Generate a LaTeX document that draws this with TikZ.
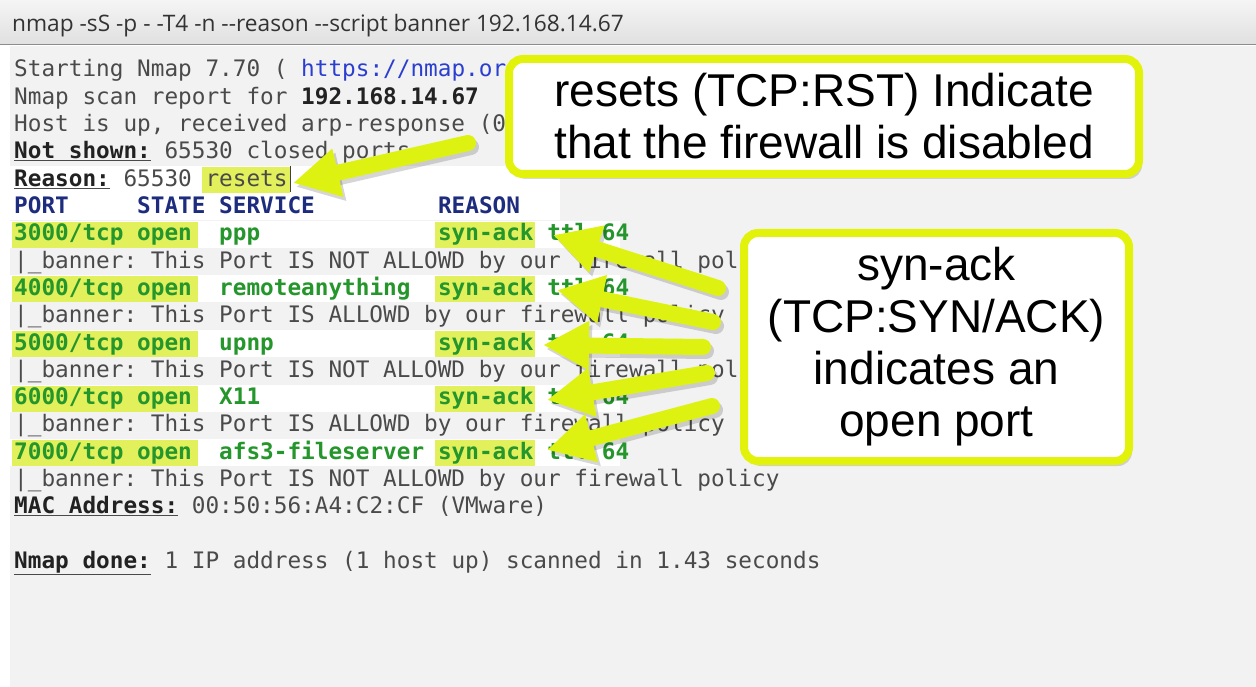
\documentclass[tikz,border=0pt]{standalone}
\usepackage{fontspec}
\setmonofont{DejaVu Sans Mono}
\newfontfamily\callfont{Liberation Sans}
\newfontfamily\titlefont{Open Sans}
\usetikzlibrary{arrows.meta,shadows}
\definecolor{termbg}{HTML}{F2F2F2}
\definecolor{hlcolor}{HTML}{E2F05C}
\definecolor{calloutc}{HTML}{E2F20A}
\definecolor{arrowc}{HTML}{DDF210}
\definecolor{portgreen}{HTML}{25962B}
\definecolor{navy}{HTML}{1E2C7E}
\definecolor{linkblue}{HTML}{2A3FD0}
\definecolor{txtgray}{HTML}{4A4A4A}
\definecolor{darktext}{HTML}{222222}
\definecolor{titlegray}{HTML}{333333}
\newcommand\dd{-\kern0pt-}
\newcommand\lbl[1]{\textbf{\underline{\textcolor{darktext}{#1}}}}
\begin{document}
\begin{tikzpicture}[x=1pt,y=-1pt,
  term/.style={anchor=base west, inner sep=0pt, text=txtgray,
    font=\ttfamily\frenchspacing\fontsize{22.7}{27}\selectfont},
  portrow/.style={term, text=portgreen,
    font=\ttfamily\bfseries\frenchspacing\fontsize{22.7}{27}\selectfont},
  hdrrow/.style={term, text=navy,
    font=\ttfamily\bfseries\frenchspacing\fontsize{22.7}{27}\selectfont},
  hl/.style={fill=hlcolor, draw=none},
  whiteband/.style={fill=white, draw=none},
  callout/.style={draw=calloutc, line width=8pt, fill=white, rounded corners=14pt,
    align=center, inner sep=0pt, text=black,
    font=\callfont\fontsize{46}{52}\selectfont,
    drop shadow={shadow xshift=3pt, shadow yshift=-5pt, opacity=0.3}},
  bigarrow/.style={draw=arrowc, line width=16pt, line cap=round,
    -{Triangle[length=46pt,width=46pt]}},
  arrowshadow/.style={draw=black, opacity=0.16, line width=16pt, line cap=round,
    -{Triangle[length=46pt,width=46pt]}},
]
\useasboundingbox (0,0) rectangle (1256,687);
% background
\fill[white] (0,0) rectangle (1256,687);
\shade[top color=white!96!black, bottom color=white!88!black] (0,0) rectangle (1256,44);
\draw[line width=1.5pt, color=black!45] (0,44.5) -- (1256,44.5);
\fill[termbg] (10,46) rectangle (1256,687);
\node[anchor=base west, inner sep=0pt, text=titlegray,
  font=\titlefont\fontsize{22.7}{26}\selectfont] (title) at (12,32)
  {nmap -sS -p - -T4 -n \dd reason \dd script banner 192.168.14.67};

% row bands
\foreach \r in {186.2,213.5} \fill[whiteband] (10,\r-20) rectangle (560,\r+7);
\foreach \r in {240.8,295.4,350,404.6,459.2} \fill[whiteband] (10,\r-20) rectangle (620,\r+7);

% highlights
\fill[hl] (202,167) rectangle (290,193);
\foreach \r in {240.8,295.4,350,404.6,459.2} {
  \fill[hl] (12,\r-19) rectangle (198,\r+7);
  \fill[hl] (435,\r-19) rectangle (535,\r+7);
}
\draw[line width=1.6pt, color=black!75] (290.5,166) -- (290.5,192);

% terminal text
\node[term] (l0) at (14,77) {Starting Nmap 7.70 ( \textcolor{linkblue}{https://nmap.or}};
\node[term] (l1) at (14,104.3) {Nmap scan report for \textbf{\textcolor{darktext}{192.168.14.67}}};
\node[term] (l2) at (14,131.6) {Host is up, received arp-response (0};
\node[term] (l3) at (14,158.9) {\lbl{Not shown:} 65530 closed ports};
\node[term] (l4) at (14,186.2) {\lbl{Reason:} 65530 resets};
\node[hdrrow] (h1) at (14,213.5) {PORT};
\node[hdrrow] (h2) at (137,213.5) {STATE SERVICE};
\node[hdrrow] (h3) at (437.8,213.5) {REASON};

\node[portrow] (p1) at (14,240.8) {3000/tcp open};
\node[portrow] (s1) at (219,240.8) {ppp};
\node[portrow] (r1) at (437.8,240.8) {syn-ack ttl 64};
\node[term] (b1) at (14,268.1) {|\_banner: This Port IS NOT ALLOWD by our firewall policy};

\node[portrow] (p2) at (14,295.4) {4000/tcp open};
\node[portrow] (s2) at (219,295.4) {remoteanything};
\node[portrow] (r2) at (437.8,295.4) {syn-ack ttl 64};
\node[term] (b2) at (14,322.7) {|\_banner: This Port IS ALLOWD by our firewall policy};

\node[portrow] (p3) at (14,350) {5000/tcp open};
\node[portrow] (s3) at (219,350) {upnp};
\node[portrow] (r3) at (437.8,350) {syn-ack ttl 64};
\node[term] (b3) at (14,377.3) {|\_banner: This Port IS NOT ALLOWD by our firewall policy};

\node[portrow] (p4) at (14,404.6) {6000/tcp open};
\node[portrow] (s4) at (219,404.6) {X11};
\node[portrow] (r4) at (437.8,404.6) {syn-ack ttl 64};
\node[term] (b4) at (14,431.9) {|\_banner: This Port IS ALLOWD by our firewall policy};

\node[portrow] (p5) at (14,459.2) {7000/tcp open};
\node[portrow] (s5) at (219,459.2) {afs3-fileserver};
\node[portrow] (r5) at (437.8,459.2) {syn-ack ttl 64};
\node[term] (b5) at (14,486.5) {|\_banner: This Port IS NOT ALLOWD by our firewall policy};

\node[term] (mac) at (14,513.8) {\lbl{MAC Address:} 00:50:56:A4:C2:CF (VMware)};
\node[term] (done) at (14,568.4) {\lbl{Nmap done:} 1 IP address (1 host up) scanned in 1.43 seconds};

% callouts
\node[callout, minimum width=630pt, minimum height=115pt] (c1) at (824,116.5)
  {resets (TCP:RST) Indicate\\that the firewall is disabled};
\node[callout, minimum width=385pt, minimum height=228pt] (c2) at (936.5,347)
  {syn-ack\\(TCP:SYN/ACK)\\indicates an\\open port};

% arrows
\coordinate (t0) at (468,143); \coordinate (k0) at (293,183);
\coordinate (t1) at (718,288); \coordinate (k1) at (553,235);
\coordinate (t2) at (713,322); \coordinate (k2) at (557,290);
\coordinate (t3) at (703,347); \coordinate (k3) at (543,345);
\coordinate (t4) at (707,373); \coordinate (k4) at (547,400);
\coordinate (t5) at (712,406); \coordinate (k5) at (547,450);
\foreach \i in {0,...,5} {
  \draw[arrowshadow, transform canvas={shift={(3pt,-4pt)}}] (t\i) -- (k\i);
}
\foreach \i in {0,...,5} {
  \draw[bigarrow] (t\i) -- (k\i);
}
\end{tikzpicture}
\end{document}
